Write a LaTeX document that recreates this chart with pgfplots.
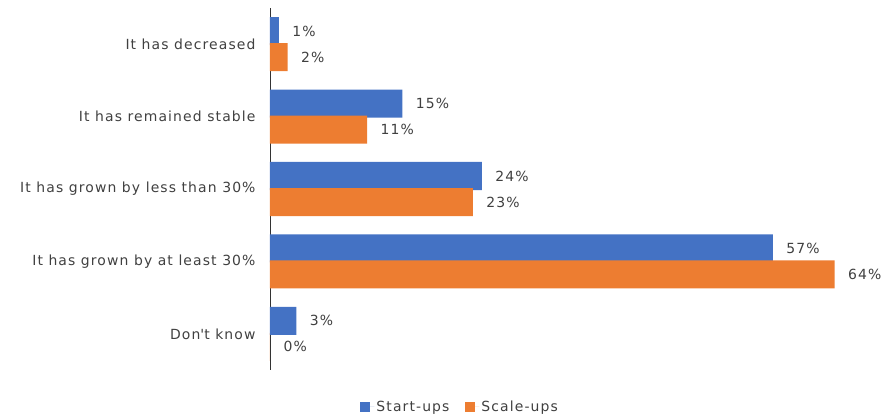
\documentclass[border=0pt]{standalone}
\usepackage{pgfplots}
\pgfplotsset{compat=1.18}
\usepackage{fontspec}
\setmainfont[LetterSpace=8]{DejaVu Sans}
\definecolor{cblue}{HTML}{4472C4}
\definecolor{corange}{HTML}{ED7D31}
\definecolor{ctext}{HTML}{404040}
\begin{document}
\begin{tikzpicture}[x=1bp,y=1bp]
\path[use as bounding box] (-270,-46) rectangle (613,370);
\begin{axis}[
  at={(0,0)}, anchor=south west,
  scale only axis, width=600bp, height=362bp,
  xbar, bar width=0.387, bar shift auto,
  xmin=0, xmax=68,
  ymin=-0.5, ymax=4.5, y dir=reverse,
  ytick={0,1,2,3,4},
  yticklabels={It has decreased,It has remained stable,It has grown by less than 30\%,It has grown by at least 30\%,Don\textquotesingle t know},
  axis x line=none,
  axis y line*=left,
  y axis line style={draw=black!80, line width=0.8pt, -},
  major tick length=0pt,
  /pgf/number format/assume math mode=true,
  yticklabel style={font=\fontsize{14}{16}\selectfont, text=ctext, xshift=-11bp},
  nodes near coords={\pgfmathprintnumber{\pgfplotspointmeta}\%},
  nodes near coords style={font=\fontsize{14}{16}\selectfont, text=ctext, anchor=west, xshift=10bp},
  point meta=x,
  legend style={at={(0.317,-0.102)}, anchor=center, draw=none, legend columns=2,
    font=\fontsize{14}{16}\selectfont, text=ctext, /tikz/every even column/.append style={column sep=14bp}},
  legend image code/.code={\fill[#1] (0bp,-5bp) rectangle (10bp,5bp); \path (0bp,0bp) -- (14bp,0bp);},
]
\addplot[fill=cblue, draw=none] coordinates {(1,0) (15,1) (24,2) (57,3) (3,4)};
\addplot[fill=corange, draw=none] coordinates {(2,0) (11,1) (23,2) (64,3) (0,4)};
\legend{Start-ups, Scale-ups}
\end{axis}
\end{tikzpicture}
\end{document}
